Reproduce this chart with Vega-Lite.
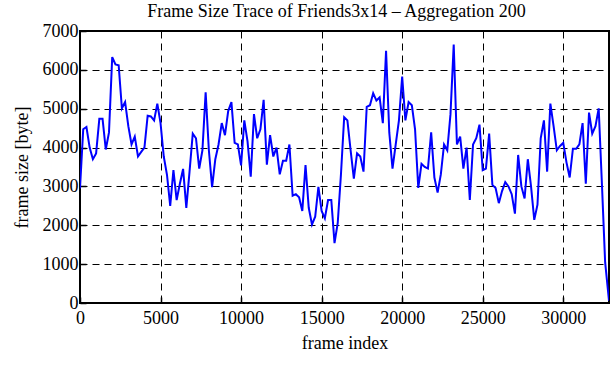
{
  "$schema": "https://vega.github.io/schema/vega-lite/v6.json",
  "width": 529,
  "height": 272,
  "autosize": "none",
  "padding": {"left": 80, "top": 31, "right": 2, "bottom": 77},
  "background": "white",
  "title": {"text": "Frame Size Trace of Friends3x14 – Aggregation 200", "font": "Liberation Serif", "fontSize": 18, "fontWeight": "normal", "color": "black", "anchor": "middle", "offset": 1, "dx": -8},
  "config": {
    "view": {"stroke": "black", "strokeWidth": 2},
    "axis": {"labelFont": "Liberation Serif", "titleFont": "Liberation Serif", "labelFontSize": 18, "titleFontSize": 18, "titleFontWeight": "normal", "labelColor": "black", "titleColor": "black", "grid": true, "gridColor": "black", "gridDash": [7, 5], "gridWidth": 1, "gridOpacity": 1, "domain": false, "ticks": true, "tickSize": -6, "tickColor": "black", "tickWidth": 1.5}
  },
  "data": {"values": [
    {"x": 0, "y": 2950}, {"x": 200, "y": 4470}, {"x": 400, "y": 4530}, {"x": 600, "y": 4000}, {"x": 800, "y": 3700},
    {"x": 1000, "y": 3850}, {"x": 1200, "y": 4740}, {"x": 1400, "y": 4740}, {"x": 1600, "y": 3950}, {"x": 1800, "y": 4390},
    {"x": 2000, "y": 6330}, {"x": 2200, "y": 6140}, {"x": 2400, "y": 6120}, {"x": 2600, "y": 5010}, {"x": 2800, "y": 5170},
    {"x": 3000, "y": 4550}, {"x": 3200, "y": 4080}, {"x": 3400, "y": 4280}, {"x": 3600, "y": 3770}, {"x": 3800, "y": 3890},
    {"x": 4000, "y": 4000}, {"x": 4200, "y": 4820}, {"x": 4400, "y": 4800}, {"x": 4600, "y": 4700}, {"x": 4800, "y": 5130},
    {"x": 5000, "y": 4630}, {"x": 5200, "y": 3770}, {"x": 5400, "y": 3300}, {"x": 5600, "y": 2500}, {"x": 5800, "y": 3420},
    {"x": 6000, "y": 2650}, {"x": 6200, "y": 3070}, {"x": 6400, "y": 3450}, {"x": 6600, "y": 2450}, {"x": 6800, "y": 3380},
    {"x": 7000, "y": 4360}, {"x": 7200, "y": 4240}, {"x": 7400, "y": 3460}, {"x": 7600, "y": 3930}, {"x": 7800, "y": 5420},
    {"x": 8000, "y": 3930}, {"x": 8200, "y": 2980}, {"x": 8400, "y": 3700}, {"x": 8600, "y": 4080}, {"x": 8800, "y": 4630},
    {"x": 9000, "y": 4320}, {"x": 9200, "y": 4940}, {"x": 9400, "y": 5170}, {"x": 9600, "y": 4120}, {"x": 9800, "y": 4080},
    {"x": 10000, "y": 3540}, {"x": 10200, "y": 4700}, {"x": 10400, "y": 4160}, {"x": 10600, "y": 3250}, {"x": 10800, "y": 4860},
    {"x": 11000, "y": 4240}, {"x": 11200, "y": 4470}, {"x": 11400, "y": 5230}, {"x": 11600, "y": 3560}, {"x": 11800, "y": 4320},
    {"x": 12000, "y": 3770}, {"x": 12200, "y": 4000}, {"x": 12400, "y": 3310}, {"x": 12600, "y": 3660}, {"x": 12800, "y": 3660},
    {"x": 13000, "y": 4080}, {"x": 13200, "y": 2760}, {"x": 13400, "y": 2800}, {"x": 13600, "y": 2720}, {"x": 13800, "y": 2370},
    {"x": 14000, "y": 3550}, {"x": 14200, "y": 2450}, {"x": 14400, "y": 2020}, {"x": 14600, "y": 2220}, {"x": 14800, "y": 2990},
    {"x": 15000, "y": 2370}, {"x": 15200, "y": 2180}, {"x": 15400, "y": 2650}, {"x": 15600, "y": 2650}, {"x": 15800, "y": 1540},
    {"x": 16000, "y": 2060}, {"x": 16200, "y": 3310}, {"x": 16400, "y": 4780}, {"x": 16600, "y": 4700}, {"x": 16800, "y": 3930},
    {"x": 17000, "y": 3200}, {"x": 17200, "y": 3850}, {"x": 17400, "y": 3770}, {"x": 17600, "y": 3380}, {"x": 17800, "y": 5050},
    {"x": 18000, "y": 5090}, {"x": 18200, "y": 5400}, {"x": 18400, "y": 5210}, {"x": 18600, "y": 5290}, {"x": 18800, "y": 4630},
    {"x": 19000, "y": 6490}, {"x": 19200, "y": 4390}, {"x": 19400, "y": 3460}, {"x": 19600, "y": 4080}, {"x": 19800, "y": 4700},
    {"x": 20000, "y": 5830}, {"x": 20200, "y": 4700}, {"x": 20400, "y": 5170}, {"x": 20600, "y": 5090}, {"x": 20800, "y": 4470},
    {"x": 21000, "y": 2960}, {"x": 21200, "y": 3580}, {"x": 21400, "y": 3500}, {"x": 21600, "y": 3460}, {"x": 21800, "y": 4390},
    {"x": 22000, "y": 3230}, {"x": 22200, "y": 2840}, {"x": 22400, "y": 3310}, {"x": 22600, "y": 4080}, {"x": 22800, "y": 3930},
    {"x": 23000, "y": 4860}, {"x": 23200, "y": 6650}, {"x": 23400, "y": 4080}, {"x": 23600, "y": 4280}, {"x": 23800, "y": 3460},
    {"x": 24000, "y": 4000}, {"x": 24200, "y": 2650}, {"x": 24400, "y": 4080}, {"x": 24600, "y": 4240}, {"x": 24800, "y": 4590},
    {"x": 25000, "y": 3420}, {"x": 25200, "y": 3460}, {"x": 25400, "y": 4360}, {"x": 25600, "y": 3040}, {"x": 25800, "y": 2960},
    {"x": 26000, "y": 2570}, {"x": 26200, "y": 2880}, {"x": 26400, "y": 3110}, {"x": 26600, "y": 3000}, {"x": 26800, "y": 2800},
    {"x": 27000, "y": 2300}, {"x": 27200, "y": 3810}, {"x": 27400, "y": 3000}, {"x": 27600, "y": 2690}, {"x": 27800, "y": 3700},
    {"x": 28000, "y": 3000}, {"x": 28200, "y": 2140}, {"x": 28400, "y": 2530}, {"x": 28600, "y": 4240}, {"x": 28800, "y": 4700},
    {"x": 29000, "y": 3380}, {"x": 29200, "y": 5130}, {"x": 29400, "y": 4550}, {"x": 29600, "y": 3930}, {"x": 29800, "y": 4040},
    {"x": 30000, "y": 4120}, {"x": 30200, "y": 3620}, {"x": 30400, "y": 3230}, {"x": 30600, "y": 3970}, {"x": 30800, "y": 3970},
    {"x": 31000, "y": 4080}, {"x": 31200, "y": 4630}, {"x": 31400, "y": 3070}, {"x": 31600, "y": 4900}, {"x": 31800, "y": 4360},
    {"x": 32000, "y": 4550}, {"x": 32200, "y": 5010}, {"x": 32400, "y": 3070}, {"x": 32600, "y": 1050}, {"x": 32840, "y": 60}
  ]},
  "mark": {"type": "line", "color": "#0000ff", "strokeWidth": 2, "clip": true},
  "encoding": {
    "x": {"field": "x", "type": "quantitative", "title": "frame index",
      "scale": {"domain": [0, 32840], "nice": false, "zero": true},
      "axis": {"values": [0, 5000, 10000, 15000, 20000, 25000, 30000], "labelPadding": 12, "titlePadding": 7, "labelFlush": false, "format": "d"}},
    "y": {"field": "y", "type": "quantitative", "title": "frame size [byte]",
      "scale": {"domain": [0, 7000], "nice": false},
      "axis": {"values": [0, 1000, 2000, 3000, 4000, 5000, 6000, 7000], "labelPadding": 8, "titlePadding": 11, "labelFlush": false, "format": "d"}}
  }
}
